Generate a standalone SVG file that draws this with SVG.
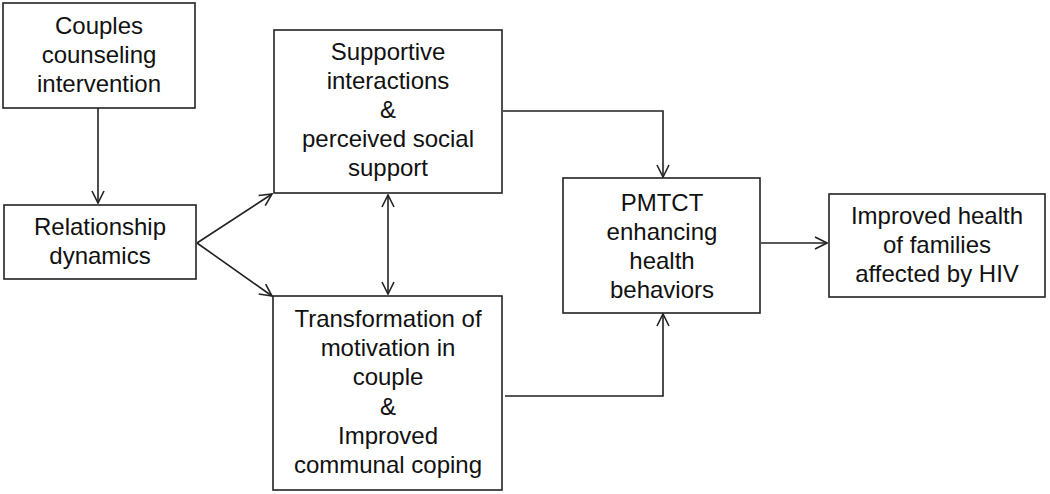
<svg xmlns="http://www.w3.org/2000/svg" width="1050" height="494" viewBox="0 0 1050 494">
<style>
.box{fill:#fff;stroke:#222;stroke-width:1.6}
.t{font-family:"Liberation Sans",Arial,sans-serif;font-size:24px;fill:#111;text-anchor:middle}
.c{fill:none;stroke:#222;stroke-width:1.6}
</style>
<defs>
<marker id="arr" viewBox="0 0 14 14" refX="13" refY="7" markerWidth="14" markerHeight="14" markerUnits="userSpaceOnUse" orient="auto-start-reverse">
<path d="M1,1 L13,7 L1,13" fill="none" stroke="#222" stroke-width="1.6"/>
</marker>
</defs>
<rect width="1050" height="494" fill="#fff"/>
<g id="connectors">
<path class="c" d="M98,108 V203" marker-end="url(#arr)"/>
<path class="c" d="M197,243 L272,194" marker-end="url(#arr)"/>
<path class="c" d="M197,243 L272,296" marker-end="url(#arr)"/>
<path class="c" d="M388,195 V294" marker-start="url(#arr)" marker-end="url(#arr)"/>
<path class="c" d="M503,111 H663 V177" marker-end="url(#arr)"/>
<path class="c" d="M505,396 H663 V314" marker-end="url(#arr)"/>
<path class="c" d="M761,243 H827" marker-end="url(#arr)"/>
</g>
<g id="n1">
<rect class="box" x="3" y="3" width="192" height="105"/>
<text class="t" x="99" y="34">Couples</text>
<text class="t" x="99" y="63">counseling</text>
<text class="t" x="99" y="92">intervention</text>
</g>
<g id="n2">
<rect class="box" x="4" y="205" width="192" height="74"/>
<text class="t" x="100" y="235">Relationship</text>
<text class="t" x="100" y="264">dynamics</text>
</g>
<g id="n3">
<rect class="box" x="274" y="30" width="228" height="163"/>
<text class="t" x="388" y="60">Supportive</text>
<text class="t" x="388" y="89">interactions</text>
<text class="t" x="388" y="118">&amp;</text>
<text class="t" x="388" y="147">perceived social</text>
<text class="t" x="388" y="176">support</text>
</g>
<g id="n4">
<rect class="box" x="273" y="296" width="229" height="194"/>
<text class="t" x="388" y="327">Transformation of</text>
<text class="t" x="388" y="356">motivation in</text>
<text class="t" x="388" y="385">couple</text>
<text class="t" x="388" y="415">&amp;</text>
<text class="t" x="388" y="444">Improved</text>
<text class="t" x="388" y="473">communal coping</text>
</g>
<g id="n5">
<rect class="box" x="563" y="178" width="197" height="135"/>
<text class="t" x="662" y="211">PMTCT</text>
<text class="t" x="662" y="240">enhancing</text>
<text class="t" x="662" y="269">health</text>
<text class="t" x="662" y="298">behaviors</text>
</g>
<g id="n6">
<rect class="box" x="829" y="194" width="216" height="103"/>
<text class="t" x="937" y="224">Improved health</text>
<text class="t" x="937" y="253">of families</text>
<text class="t" x="937" y="282">affected by HIV</text>
</g>
</svg>
